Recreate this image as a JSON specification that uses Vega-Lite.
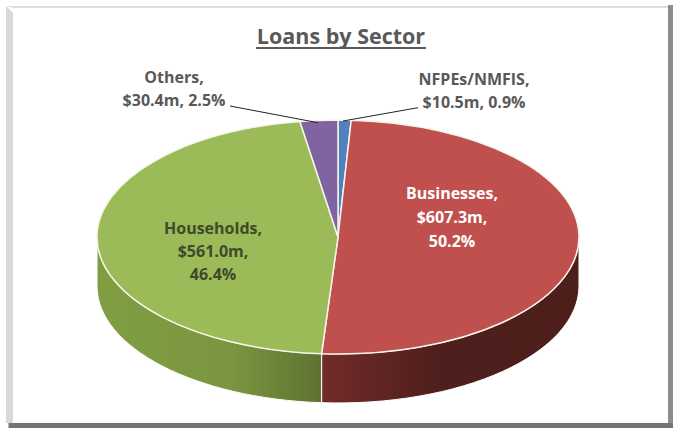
{"$schema":"https://vega.github.io/schema/vega-lite/v6.json","width":673,"height":428,"padding":0,"autosize":{"type":"none"},"background":"white","config":{"view":{"stroke":null}},"title":{"text":"Loans by Sector","font":"Open Sans","fontSize":21.5,"fontWeight":"bold","color":"#595959","anchor":"middle","dx":4.5,"offset":-48},"data":{"values":[{"sector":"NFPEs/NMFIS","amount":10.5,"share":0.9,"label":["NFPEs/NMFIS,","$10.5m, 0.9%"]},{"sector":"Businesses","amount":607.3,"share":50.2,"label":["Businesses,","$607.3m,","50.2%"]},{"sector":"Households","amount":561.0,"share":46.4,"label":["Households,","$561.0m,","46.4%"]},{"sector":"Others","amount":30.4,"share":2.5,"label":["Others,","$30.4m, 2.5%"]}]},"resolve":{"scale":{"shape":"independent","color":"independent"}},"layer":[{"data":{"values":[{"part":"left"},{"part":"top"},{"part":"right"},{"part":"bottom"},{"part":"underline"}]},"mark":{"type":"point","filled":true,"opacity":1,"size":4},"encoding":{"shape":{"field":"part","type":"nominal","legend":null,"scale":{"domain":["left","top","right","bottom","underline"],"range":["M-330.5,-208L-323.5,-201L-323.5,209L-330.5,209Z","M-330.5,-208L331.5,-208L331.5,-206L-323.5,-206Z","M331.5,-209L336.5,-209L336.5,214L331.5,214Z","M-328,209L336.5,209L336.5,214L-328,214Z","M-80.5,-167L89.5,-167L89.5,-165L-80.5,-165Z"]}},"color":{"field":"part","type":"nominal","legend":null,"scale":{"domain":["left","top","right","bottom","underline"],"range":["#d9d9d9","#dedede","#8c8c8c","#757575","#595959"]}}}},{"transform":[{"filter":"datum.sector === 'Businesses'"}],"mark":{"type":"point","filled":true,"opacity":1,"size":4,"shape":"M242.5,23A241,117 0 0 1 -14.9,139.7L-14.9,188.7A241,117 0 0 0 242.5,72Z","stroke":"#ffffff","strokeWidth":1,"fill":{"gradient":"linear","x1":0,"y1":0,"x2":1,"y2":0,"stops":[{"offset":0,"color":"#722b2a"},{"offset":0.45,"color":"#4e1f1c"},{"offset":1,"color":"#4e1e1b"}]}}},{"transform":[{"filter":"datum.sector === 'Households'"}],"mark":{"type":"point","filled":true,"opacity":1,"size":4,"shape":"M-14.9,139.7A241,117 0 0 1 -239.5,23L-239.5,72A241,117 0 0 0 -14.9,188.7Z","stroke":"#ffffff","strokeWidth":1,"fill":{"gradient":"linear","x1":0,"y1":0,"x2":1,"y2":0,"stops":[{"offset":0,"color":"#7f9e42"},{"offset":0.6,"color":"#7a9640"},{"offset":1,"color":"#5d7231"}]}}},{"mark":{"type":"point","filled":true,"opacity":1,"size":4,"stroke":"#f7f4ea","strokeWidth":1.5},"encoding":{"shape":{"field":"sector","type":"nominal","legend":null,"scale":{"domain":["NFPEs/NMFIS","Businesses","Households","Others"],"range":["M1.5,23L1.5,-94A241,117 0 0 1 14.7,-93.8Z","M1.5,23L14.7,-93.8A241,117 0 0 1 242.5,23A241,117 0 0 1 -14.9,139.7Z","M1.5,23L-14.9,139.7A241,117 0 0 1 -239.5,23A241,117 0 0 1 -36.6,-92.5Z","M1.5,23L-36.6,-92.5A241,117 0 0 1 1.5,-94Z"]}},"color":{"field":"sector","type":"nominal","legend":null,"scale":{"domain":["NFPEs/NMFIS","Businesses","Households","Others"],"range":["#4f81bd","#c0504d","#9bbb59","#8064a2"]}}}},{"transform":[{"filter":"datum.sector === 'Others'"}],"mark":{"type":"point","filled":false,"opacity":1,"size":4,"shape":"M-106.5,-108L-18.5,-91.3","stroke":"#222222","strokeWidth":1}},{"transform":[{"filter":"datum.sector === 'NFPEs/NMFIS'"}],"mark":{"type":"point","filled":false,"opacity":1,"size":4,"shape":"M81.5,-106.3L6.5,-93","stroke":"#222222","strokeWidth":1}},{"transform":[{"filter":"datum.sector === 'Businesses'"}],"mark":{"type":"text","font":"Open Sans","fontSize":16,"fontWeight":"bold","color":"#ffffff","lineHeight":24,"dx":115.5,"dy":-20,"align":"center","baseline":"middle"},"encoding":{"text":{"field":"label"}}},{"transform":[{"filter":"datum.sector === 'Households'"}],"mark":{"type":"text","font":"Open Sans","fontSize":16,"fontWeight":"bold","color":"#3f4a2a","lineHeight":23,"dx":-123.5,"dy":15,"align":"center","baseline":"middle"},"encoding":{"text":{"field":"label"}}},{"transform":[{"filter":"datum.sector === 'Others'"}],"mark":{"type":"text","font":"Open Sans","fontSize":16,"fontWeight":"bold","color":"#595959","lineHeight":23,"dx":-162.5,"dy":-136,"align":"center","baseline":"middle"},"encoding":{"text":{"field":"label"}}},{"transform":[{"filter":"datum.sector === 'NFPEs/NMFIS'"}],"mark":{"type":"text","font":"Open Sans","fontSize":16,"fontWeight":"bold","color":"#595959","lineHeight":23,"dx":137.5,"dy":-134,"align":"center","baseline":"middle"},"encoding":{"text":{"field":"label"}}}]}
